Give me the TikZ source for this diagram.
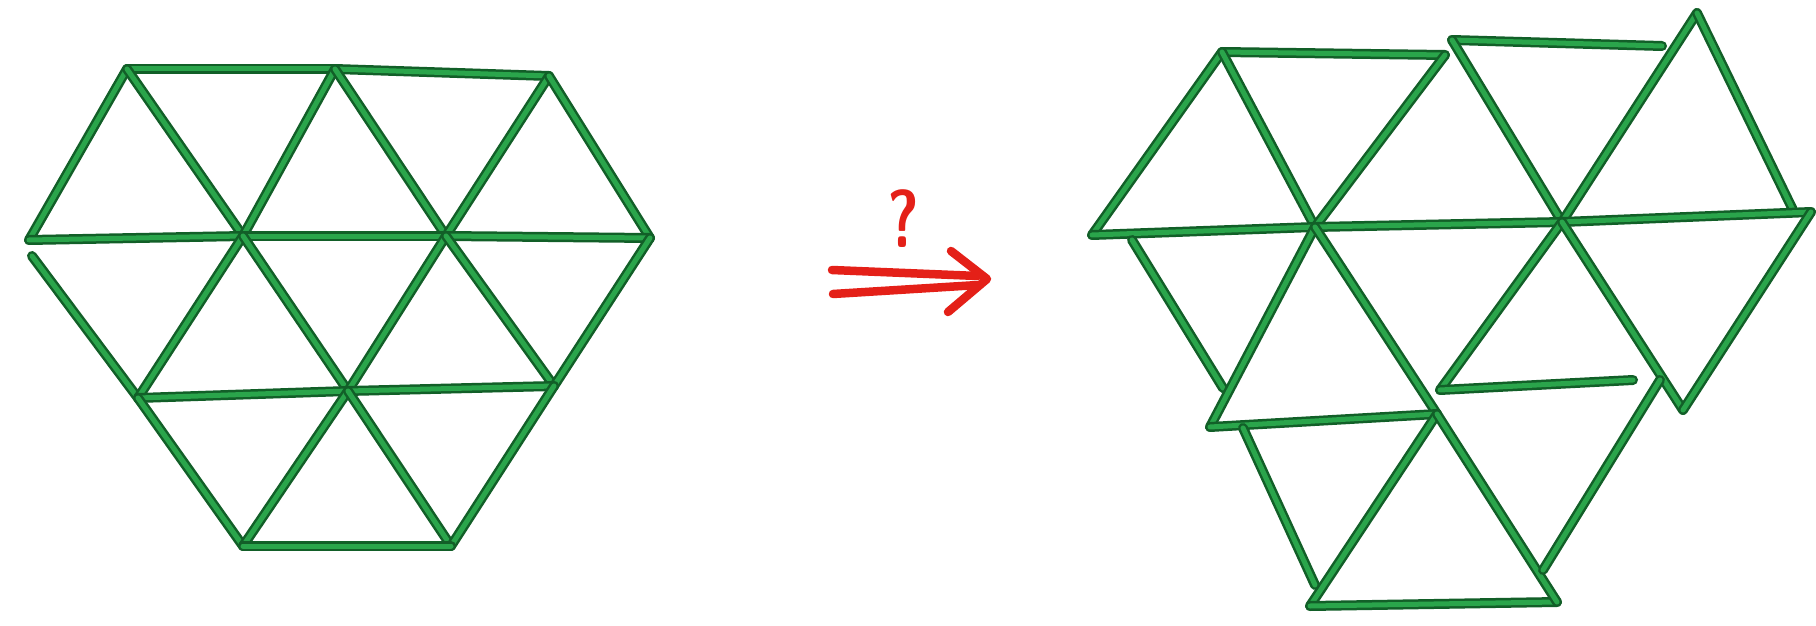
\documentclass[tikz,border=0pt]{standalone}
\usepackage{xcolor}
\definecolor{stickdark}{RGB}{18,95,40}
\definecolor{sticklight}{RGB}{42,165,75}
\definecolor{arrowred}{RGB}{228,32,24}
\tikzset{
  stick/.style={draw=stickdark, line width=2.5pt, double=sticklight, double distance=5pt, line cap=round, line join=round},
  redline/.style={draw=arrowred, line width=8.5pt, line cap=round, line join=round},
  qmark/.style={text=arrowred, font=\sffamily\bfseries\fontsize{82}{82}\selectfont, inner sep=0pt, anchor=base, xscale=0.75}
}
\begin{document}
\begin{tikzpicture}[x=1pt,y=-1pt]
\useasboundingbox (0,0) rectangle (1816,626);
\fill[white] (0,0) rectangle (1816,626);
% ---------- left figure ----------
\coordinate (A1) at (127,69);
\coordinate (A2) at (335,69);
\coordinate (A3) at (549,76);
\coordinate (B0) at (29,240);
\coordinate (B0s) at (32,256);
\coordinate (B1) at (243,236);
\coordinate (B2) at (446,236);
\coordinate (B3) at (650,238);
\coordinate (C1) at (138,398);
\coordinate (C2) at (348,391);
\coordinate (C3) at (554,386);
\coordinate (D1) at (243,546);
\coordinate (D2) at (451,546);
\foreach \a/\b in {A1/A2,A2/A3,A1/B0,A1/B1,A2/B1,A2/B2,A3/B2,A3/B3,
  B0/B1,B1/B2,B2/B3,B0s/C1,B1/C1,B1/C2,B2/C2,B2/C3,B3/C3,
  C1/C2,C2/C3,C1/D1,C2/D1,C2/D2,C3/D2,D1/D2}
  \draw[stick] (\a) -- (\b);
% ---------- arrow ----------
\coordinate (L1s) at (832,270);
\coordinate (L1e) at (978,276);
\coordinate (L2s) at (833,294);
\coordinate (L2e) at (978,285);
\coordinate (H1) at (951,251);
\coordinate (Ht) at (987,279);
\coordinate (H2) at (948,312);
\draw[redline] (L1s) -- (L1e);
\draw[redline] (L2s) -- (L2e);
\draw[redline] (H1) -- (Ht) -- (H2);
\node[qmark] (q) at (903,247) {?};
% ---------- right figure ----------
\coordinate (R1) at (1222,52);
\coordinate (R2) at (1445,55);
\coordinate (R2b) at (1452,40);
\coordinate (R3) at (1662,46);
\coordinate (Rap) at (1697,13);
\coordinate (R4) at (1092,235);
\coordinate (R5) at (1315,227);
\coordinate (R6) at (1562,222);
\coordinate (R7) at (1811,212);
\coordinate (R7b) at (1793,210);
\coordinate (R8s) at (1132,240);
\coordinate (R8) at (1223,388);
\coordinate (R9) at (1210,427);
\coordinate (R10) at (1437,414);
\coordinate (R11) at (1440,390);
\coordinate (R12) at (1633,380);
\coordinate (R13) at (1660,380);
\coordinate (R14) at (1683,410);
\coordinate (R15) at (1315,585);
\coordinate (R16) at (1310,606);
\coordinate (R17) at (1557,602);
\coordinate (R18) at (1543,570);
\coordinate (R19) at (1243,428);
\foreach \a/\b in {R1/R2,R2b/R3,R1/R4,R1/R5,R2/R5,R2b/R6,Rap/R6,Rap/R7b,
  R4/R5,R5/R6,R6/R7,R8s/R8,R5/R9,R5/R10,R6/R11,R6/R14,R14/R7,
  R11/R12,R9/R10,R19/R15,R10/R16,R16/R17,R10/R17,R13/R18}
  \draw[stick] (\a) -- (\b);
\end{tikzpicture}
\end{document}
